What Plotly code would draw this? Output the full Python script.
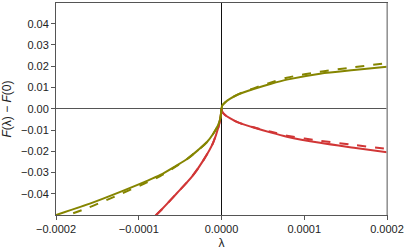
import plotly.graph_objects as go

# λ values and F(λ)-F(0)
lam_olive_neg = [-2.0e-4, -1.6e-4, -1.2e-4, -9.0e-5, -7.4e-5, -5.5e-5, -4.17e-5, -2.8e-5, -1.75e-5, -1.0e-5, -4.7e-6, -1.5e-6, 0.0]
olive_solid_neg = [-0.0499, -0.0447, -0.0387, -0.0339, -0.0311, -0.0268, -0.0236, -0.0193, -0.0156, -0.0117, -0.0082, -0.0045, 0.0]
olive_dash_neg = [-0.0520, -0.0463, -0.0397, -0.0346, -0.0316, -0.0271, -0.0237, -0.0193, -0.0156, -0.0117, -0.0082, -0.0045, 0.0]

lam_pos = [0.0, 1.0e-6, 4.6e-6, 1.06e-5, 2.0e-5, 3.88e-5, 6.0e-5, 7.9e-5, 1.19e-4, 1.6e-4, 2.0e-4]
olive_solid_pos = [0.0, 0.0016, 0.0031, 0.0048, 0.0067, 0.0093, 0.0118, 0.0137, 0.0165, 0.0182, 0.0197]
olive_dash_pos = [0.0, 0.0016, 0.0031, 0.0048, 0.0068, 0.0096, 0.0124, 0.0146, 0.0174, 0.0195, 0.0215]

red_solid_pos = [0.0, -0.0015, -0.0030, -0.0045, -0.0064, -0.0088, -0.0112, -0.0131, -0.0160, -0.0183, -0.0204]
red_dash_pos = [0.0, -0.0015, -0.0030, -0.0045, -0.0064, -0.0087, -0.0108, -0.0126, -0.0150, -0.0170, -0.0188]

lam_red_neg = [-9.5e-5, -7.2e-5, -5.4e-5, -3.57e-5, -2.16e-5, -1.03e-5, -3.5e-6, -1.0e-6, 0.0]
red_solid_neg = [-0.0560, -0.0472, -0.0397, -0.0319, -0.0240, -0.0161, -0.0083, -0.0036, 0.0]
red_dash_neg = [-0.0560, -0.0472, -0.0397, -0.0319, -0.0240, -0.0161, -0.0083, -0.0036, 0.0]

x_ticks = [-0.0002, -0.0001, 0.0, 0.0001, 0.0002]
y_ticks = [-0.04, -0.03, -0.02, -0.01, 0.0, 0.01, 0.02, 0.03, 0.04]

OLIVE = "#858500"
RED = "#d13636"

fig = go.Figure()

def add(x, y, color, dash):
    fig.add_trace(go.Scatter(x=x, y=y, mode="lines", showlegend=False, hoverinfo="skip",
                             line=dict(color=color, width=2, dash=dash, shape="spline", smoothing=0.8)))

add(lam_red_neg, red_dash_neg, RED, "dash")
add(lam_red_neg, red_solid_neg, RED, "solid")
add(lam_pos, red_dash_pos, RED, "dash")
add(lam_pos, red_solid_pos, RED, "solid")
add(lam_olive_neg, olive_dash_neg, OLIVE, "dash")
add(lam_olive_neg, olive_solid_neg, OLIVE, "solid")
add(lam_pos, olive_dash_pos, OLIVE, "dash")
add(lam_pos, olive_solid_pos, OLIVE, "solid")

font = dict(family="Liberation Sans, Arial, sans-serif", size=11, color="#222")

fig.update_layout(
    width=407, height=252,
    margin=dict(l=56, r=20, t=3, b=37),
    paper_bgcolor="white", plot_bgcolor="white",
    font=font,
    xaxis=dict(range=[-0.0002, 0.0002], tickvals=x_ticks, tickformat=".4f",
               showgrid=False, zeroline=True, zerolinecolor="#111", zerolinewidth=1,
               showline=True, linecolor="#555", linewidth=1, mirror=True,
               ticks="outside", ticklen=4, tickcolor="#555",
               title=dict(text="λ", font=dict(size=12), standoff=4)),
    yaxis=dict(range=[-0.0499, 0.0497], tickvals=y_ticks, tickformat=".2f",
               showgrid=False, zeroline=True, zerolinecolor="#555", zerolinewidth=1,
               showline=True, linecolor="#555", linewidth=1, mirror=True,
               ticks="outside", ticklen=4, tickcolor="#555",
               title=dict(text="<i>F</i>(λ) − <i>F</i>(0)", font=dict(size=12), standoff=8)),
)
fig.add_shape(type="line", xref="paper", yref="paper", x0=1, x1=1, y0=0, y1=1,
              line=dict(color="#aaa", width=1.5))

fig.write_html("out.html", config={"displayModeBar": False},
               post_script="document.body.style.margin='0';document.body.style.padding='0';")
